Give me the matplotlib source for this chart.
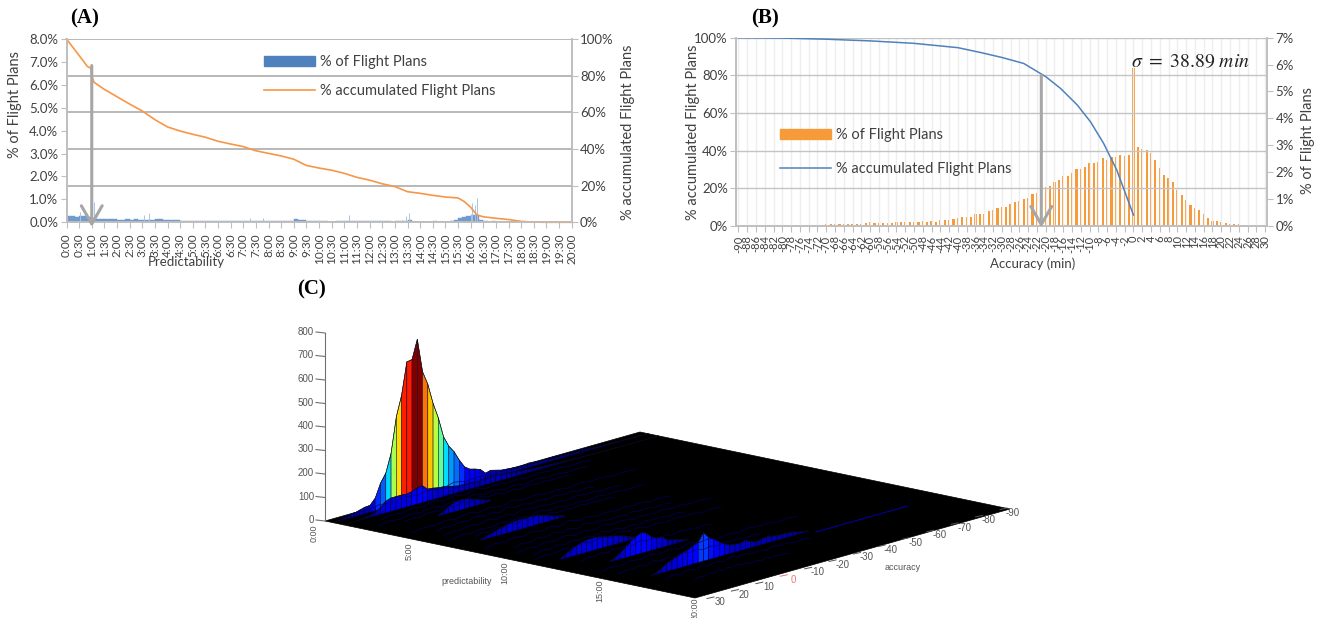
"""Flight plan predictability / accuracy: two Excel style panels and a 3D surface."""
import matplotlib
matplotlib.use("Agg")
import matplotlib.pyplot as plt
import numpy as np
from matplotlib.collections import PolyCollection
from matplotlib.lines import Line2D
from matplotlib.patches import Patch, Polygon

W, H = 1325, 618
plt.rcParams["font.family"] = ["Lato", "DejaVu Sans"]
plt.rcParams["mathtext.fontset"] = "stix"

TXT = "#404040"
GRID = "#ababab"
SPINE = "#bfbfbf"
ARROW = "#a6a6a6"

# Panel A, hours
a_acc_hours = [0, 0.5, 0.83, 0.97, 1.0, 1.08, 1.5, 2, 2.5, 3, 3.5, 4, 4.5, 5, 5.5, 6, 6.5, 7, 7.5, 8,
               8.5, 9, 9.5, 10, 10.5, 11, 11.5, 12, 12.5, 13, 13.5, 14, 14.5, 15, 15.5, 15.75, 16,
               16.25, 16.5, 17, 17.5, 18, 18.5, 19, 20]
a_acc_values = [100, 91, 85, 84, 80, 76.5, 72.5, 68.5, 64.5, 60.7, 56, 52, 49.8, 48, 46.4, 44.2, 42.7,
                41.3, 39, 37.6, 36.2, 34.4, 31, 29.6, 28.4, 26.7, 24.5, 23, 21, 19.5, 16.7, 15.8, 14.7,
                13.8, 13.3, 11.3, 8.2, 4, 3, 2.2, 1.5, 0.5, 0.1, 0, 0]
# one value per 10 min
a_bar_values = [0.27, 0.26, 0.24, 0.28, 0.27, 0.25, 0.2, 0.15, 0.14, 0.14, 0.13, 0.13, 0.12, 0.12, 0.13,
                0.12, 0.13, 0.12, 0.11, 0.12, 0.11, 0.13, 0.14, 0.12, 0.1, 0.1, 0.11, 0.05, 0.05, 0.04,
                0.04, 0.05, 0.05, 0.05, 0.04, 0.04, 0.05, 0.05, 0.04, 0.04, 0.04, 0.04, 0.05, 0.06, 0.05,
                0.04, 0.04, 0.04, 0.04, 0.04, 0.04, 0.04, 0.05, 0.05, 0.13, 0.12, 0.1, 0.05, 0.04, 0.04,
                0.04, 0.04, 0.03, 0.03, 0.04, 0.04, 0.05, 0.07, 0.05, 0.05, 0.05, 0.05, 0.06, 0.05, 0.05,
                0.04, 0.04, 0.03, 0.04, 0.05, 0.06, 0.08, 0.03, 0.03, 0.03, 0.03, 0.03, 0.04, 0.03, 0.03,
                0.03, 0.05, 0.12, 0.2, 0.24, 0.26, 0.3, 0.3, 0.08, 0.04, 0.03, 0.04, 0.03, 0.03, 0.02,
                0.02, 0.03, 0.02, 0.02, 0.01, 0, 0, 0, 0, 0, 0, 0, 0, 0, 0]
a_spike_hours = [0.52, 0.97, 1.08, 3.08, 3.25, 7.25, 7.77, 11.2, 13.3, 13.43, 13.57, 16.0, 16.05, 16.18, 16.25]
a_spike_values = [0.45, 6.85, 0.87, 0.3, 0.4, 0.2, 0.2, 0.33, 0.12, 0.28, 0.4, 0.35, 0.85, 0.75, 1.05]
a_tick_labels = [f"{m // 60}:{m % 60:02d}" for m in range(0, 1201, 30)]

# Panel B, 1 min bins from -90 to 30
b_minutes = list(range(-90, 31))
b_bar_values = [0.01, 0.01, 0.01, 0.01, 0.01, 0.01, 0.01, 0.01, 0.01, 0.01, 0.02, 0.01, 0.02, 0.01, 0.01,
                0.02, 0.02, 0.02, 0.02, 0.02, 0.05, 0.05, 0.05, 0.05, 0.06, 0.06, 0.07, 0.08, 0.07, 0.09,
                0.14, 0.09, 0.1, 0.09, 0.1, 0.1, 0.12, 0.13, 0.14, 0.14, 0.15, 0.15, 0.17, 0.14, 0.16,
                0.15, 0.2, 0.21, 0.22, 0.24, 0.3, 0.31, 0.32, 0.33, 0.42, 0.43, 0.43, 0.55, 0.58, 0.65,
                0.7, 0.71, 0.79, 0.89, 0.91, 0.99, 1.02, 1.17, 1.2, 1.27, 1.45, 1.47, 1.62, 1.72, 1.85,
                1.86, 1.95, 2.12, 2.11, 2.2, 2.32, 2.35, 2.38, 2.51, 2.44, 2.57, 2.54, 2.62, 2.6, 2.64,
                5.86, 2.92, 2.85, 2.83, 2.69, 2.44, 2.13, 1.89, 1.79, 1.61, 1.33, 1.14, 0.96, 0.77, 0.65,
                0.57, 0.42, 0.29, 0.19, 0.16, 0.14, 0.09, 0.06, 0.06, 0.05, 0.04, 0.03, 0.02, 0.01, 0.02, 0.01]
b_acc_minutes = [-90, -80, -70, -60, -50, -40, -35, -30, -25, -20, -16.6, -12.8, -9.8, -6.8, -3.8, 0]
b_acc_values = [100, 99.8, 99.2, 98.3, 97, 94.7, 92.2, 89.5, 86.3, 79.3, 73, 64.2, 55.3, 43.8, 29.6, 5.7]
b_tick_minutes = list(range(-90, 31, 2))

# Panel C, counts along accuracy, one list per predictability row
c_grid = list(range(30, -92, -2))
c_main_pred = 0.45
c_main = [0, 2, 5, 10, 15, 22, 28, 30, 55, 112, 148, 226, 375, 460, 596, 600, 680, 535, 476, 388, 320, 233,
          187, 157, 115, 80, 64, 58, 50, 28, 34, 28, 22, 20, 18, 16, 15, 14, 13, 12, 11, 10, 10, 9, 9, 8, 8,
          7, 7, 6, 6, 5, 5, 4, 4, 3, 3, 2, 2, 1, 0]
c_second_pred = 1.0
c_second = [0, 0, 0, 2, 4, 8, 15, 28, 49, 57, 57, 57, 55, 59, 68, 72, 51, 49, 44, 42, 38, 32, 27, 27, 27, 25,
            23, 27, 27, 28, 25, 22, 20, 18, 16, 14, 12, 10, 9, 8, 7, 6, 5, 4, 4, 3, 3, 2, 2, 1, 1, 1, 1, 0, 0,
            0, 0, 0, 0, 0, 0]
c_third_pred = 3.0
c_third_acc = [8, 6, 4, 2, 0, -2, -4, -6, -8, -10, -12]
c_third = [5, 14, 28, 40, 43, 42, 36, 28, 20, 12, 6]
c_fourth_pred = 7.0
c_fourth_acc = [20, 18, 16, 14, 12, 10, 8, 6, 4, 2, 0, -2, -4, -6, -8, -10, -12]
c_fourth = [5, 12, 18, 24, 30, 36, 40, 42, 42, 40, 42, 36, 30, 24, 16, 10, 5]
c_fifth_pred = 11.6
c_fifth_acc = [22, 20, 18, 16, 14, 12, 10, 8, 6, 4, 2, 0, -2, -4, -6]
c_fifth = [6, 18, 30, 40, 48, 52, 54, 52, 48, 44, 38, 32, 26, 16, 8]
c_sixth_pred = 13.4
c_sixth_acc = [16, 14, 12, 10, 8, 6, 4, 2, 0, -2, -4, -6, -8, -10, -12, -14]
c_sixth = [3, 13, 28, 43, 63, 78, 88, 80, 57, 48, 45, 25, 20, 15, 8, 3]
c_seventh_pred = 16.2
c_seventh_acc = [20, 18, 16, 14, 12, 10, 8, 6, 4, 2, 0, -2, -4, -6, -8, -10, -12, -14, -16, -18, -20, -22,
                 -24, -26, -28, -30, -32, -34, -36, -38, -40]
c_seventh = [0, 8, 20, 35, 43, 51, 60, 67, 78, 87, 123, 95, 80, 64, 48, 37, 34, 32, 38, 26, 19, 24, 28, 24,
             20, 20, 18, 17, 10, 6, 3]
# thin low ridges seen only as mesh lines: predictability, from accuracy, to accuracy
c_low_preds = [0.2, 1.6, 2.2, 2.6, 4.0, 4.6, 5.3, 6.0, 6.4, 8.0, 8.8, 9.5, 10.2, 10.8, 12.4, 14.2, 15.0, 17.0, 18.0]
c_low_from = [25, 20, 25, 18, 25, 20, 22, 24, 18, 25, 20, 24, 22, 26, 20, 25, 24, 20, 16]
c_low_to = [-70, -60, -55, -45, -60, -40, -45, -50, -35, -45, -40, -50, -35, -45, -30, -50, -30, -35, -20]
c_ripple = [0, 8, 3, 12, 5, 16, 6, 14, 4, 18, 7, 12, 3, 9, 2, 10, 4, 7, 1, 5, 0]
c_pred_ticks = [0, 5, 10, 15, 20]
c_acc_ticks = list(range(30, -91, -10))
c_z_ticks = list(range(0, 801, 100))


def fx(x):
    return x / W


def fy(y):
    return 1 - y / H


def ax_rect(left, top, right, bottom):
    return [fx(left), fy(bottom), (right - left) / W, (bottom - top) / H]


def project(pred, acc, z=0.0):
    """Base plane is a parallelogram on the page, so the view is orthographic."""
    u = np.asarray(pred) / 20.0
    v = (30.0 - np.asarray(acc)) / 120.0
    x = 325 + 370 * u + 315 * v
    y = 521 + 77 * u - 89 * v - 0.235 * np.asarray(z)
    return x, y


def style_axes(ax):
    for side in ax.spines:
        ax.spines[side].set_visible(False)
    for side in ("left", "right", "bottom"):
        ax.spines[side].set_visible(True)
        ax.spines[side].set_color(SPINE)
        ax.spines[side].set_linewidth(1.2)
    ax.tick_params(colors=TXT, color=SPINE, labelsize=9.5, pad=2, length=4)


def down_arrow(ax, x, y_top, y_tip):
    ax.annotate("", xy=(x, y_tip), xytext=(x, y_top), annotation_clip=False,
                arrowprops=dict(arrowstyle="->,head_length=13,head_width=7.5", mutation_scale=1,
                                color=ARROW, lw=2.2, shrinkA=0, shrinkB=0), zorder=10)


def draw_wall(ax, pred, accs, zs, cmap, norm):
    polys, colors = [], []
    for a0, a1, z0, z1 in zip(accs[:-1], accs[1:], zs[:-1], zs[1:]):
        corners = [(a0, 0), (a0, z0), (a1, z1), (a1, 0)]
        xs, ys = project(pred, [c[0] for c in corners], [c[1] for c in corners])
        polys.append(np.column_stack([xs, ys]))
        colors.append(cmap(norm(max(z0, z1))))
    ax.add_collection(PolyCollection(polys, facecolors=colors, edgecolors="#000020", linewidths=0.35))
    # the top edge stays dark, as on the mesh
    xs, ys = project(pred, accs, zs)
    ax.plot(xs, ys, color="#101010", lw=0.4)


fig = plt.figure(figsize=(W / 100, H / 100), dpi=100)

# Panel C goes underneath, in page pixels
ax_c = fig.add_axes([0, 0, 1, 1], zorder=0)
ax_c.set_xlim(0, W)
ax_c.set_ylim(H, 0)
ax_c.axis("off")
jet = plt.get_cmap("jet")
jet_norm = plt.Normalize(0, 680)

corner_x, corner_y = project([0, 20, 20, 0], [30, 30, -90, -90])
ax_c.add_patch(Polygon(np.column_stack([corner_x, corner_y]), facecolor="black", edgecolor="black", lw=0.5))

for pred, a_from, a_to in zip(c_low_preds, c_low_from, c_low_to):
    accs = np.linspace(a_from, a_to, len(c_ripple))
    xs, ys = project(pred, accs, c_ripple)
    ax_c.plot(xs, ys, color="#000068", lw=0.45)
xs, ys = project(16.6, np.array([-40, -75]))
ax_c.plot(xs, ys - 1, color="#0000b0", lw=0.7)

for pred, accs, zs in [(c_main_pred, c_grid, c_main),
                       (c_second_pred, c_grid, c_second),
                       (c_third_pred, c_third_acc, c_third),
                       (c_fourth_pred, c_fourth_acc, c_fourth),
                       (c_fifth_pred, c_fifth_acc, c_fifth),
                       (c_sixth_pred, c_sixth_acc, c_sixth),
                       (c_seventh_pred, c_seventh_acc, c_seventh)]:
    draw_wall(ax_c, pred, np.array(accs, dtype=float), np.array(zs, dtype=float), jet, jet_norm)

C_TXT = "#555555"
zx, zy0 = project(0, 30, 0)
_, zy1 = project(0, 30, 800)
ax_c.plot([zx, zx], [zy0, zy1], color="#707070", lw=0.8)
for z in c_z_ticks:
    _, ty = project(0, 30, z)
    ax_c.plot([zx - 9, zx], [ty - 1, ty], color="#707070", lw=0.8)
    ax_c.text(zx - 11, ty - 1, str(z), ha="right", va="center", fontsize=7, color=C_TXT,
              family="Liberation Sans")
for pred in c_pred_ticks:
    tx, ty = project(pred, 30)
    u = pred / 20
    ax_c.text(tx - 11 + 11 * u, ty + 3 - 3 * u, f"{pred}:00", rotation=90, ha="center", va="top",
              fontsize=6.5, color=C_TXT, family="Liberation Sans")
for acc in c_acc_ticks:
    tx, ty = project(20, acc)
    v = (30 - acc) / 120
    lx, ly = tx + 25 - 22 * v, ty + 4
    col = "#e87878" if acc == 0 else C_TXT
    ax_c.plot([lx - 13, lx - 6], [ly - 3.5, ly - 5], color=col, lw=0.7)
    ax_c.text(lx, ly, str(acc), ha="center", va="center", fontsize=7, color=col, family="Liberation Sans")
ax_c.text(467, 582, "predictability", ha="center", va="center", fontsize=6.5, color=C_TXT, family="Liberation Sans")
ax_c.text(903, 567, "accuracy", ha="center", va="center", fontsize=6.5, color=C_TXT, family="Liberation Sans")

# Panel A
ax_a = fig.add_axes(ax_rect(66.5, 39, 571.7, 222.3), zorder=2)
ax_a.patch.set_alpha(0)
a_bar_hours = np.arange(len(a_bar_values)) / 6.0
ax_a.bar(a_bar_hours, a_bar_values, width=1 / 6, align="edge", color="#6f9bd0", edgecolor="#6f9bd0", lw=0.3)
ax_a.vlines(a_spike_hours, 0, a_spike_values, color="#a9c4e4", lw=0.7)
ax_a.set_xlim(0, 20)
ax_a.set_ylim(0, 8)
ax_a.set_yticks(range(0, 9))
ax_a.set_yticklabels([f"{v}.0%" for v in range(0, 9)])
ax_a.set_xticks(np.arange(len(a_tick_labels)) / 2)
ax_a.set_xticklabels(a_tick_labels, rotation=90, fontsize=8.5)
style_axes(ax_a)
ax_a.tick_params(axis="x", labelsize=8.5, pad=4)

ax_a2 = ax_a.twinx()
ax_a2.plot(a_acc_hours, a_acc_values, color="#f79646", lw=1.2, clip_on=False)
ax_a2.set_ylim(0, 100)
ax_a2.set_yticks(range(0, 101, 20))
ax_a2.set_yticklabels([f"{v}%" for v in range(0, 101, 20)])
ax_a2.grid(axis="y", color=GRID, lw=1.2)
ax_a2.set_axisbelow(True)
style_axes(ax_a2)
down_arrow(ax_a2, 1.0, 85.5, -2.5)
ax_a2.legend(handles=[Patch(color="#4f81bd", label="% of Flight Plans"),
                      Line2D([], [], color="#f79646", lw=1.2, label="% accumulated Flight Plans")],
             loc="upper left", bbox_to_anchor=(fx(251), fy(42)), bbox_transform=fig.transFigure,
             frameon=False, fontsize=10.5, labelcolor=TXT, handlelength=3.5, handleheight=0.6,
             labelspacing=1.0, handletextpad=0.3)

# Panel B
ax_b = fig.add_axes(ax_rect(736.3, 37.7, 1267.3, 225.7), zorder=2)
ax_b.patch.set_alpha(0)
ax_b.plot(b_acc_minutes, b_acc_values, color="#4f81bd", lw=1.1, zorder=5)
ax_b.set_xlim(-90.5, 30.5)
ax_b.set_ylim(0, 100)
ax_b.set_yticks(range(0, 101, 20))
ax_b.set_yticklabels([f"{v}%" for v in range(0, 101, 20)])
ax_b.set_xticks(b_tick_minutes)
ax_b.set_xticklabels([str(m) for m in b_tick_minutes], rotation=90, fontsize=8)
ax_b.grid(axis="y", color="#c4c4c4", lw=1.0)
ax_b.grid(axis="x", color="#eeeeee", lw=1.0)
ax_b.set_axisbelow(True)
style_axes(ax_b)
ax_b.tick_params(axis="x", labelsize=8, length=4, pad=3)

ax_b2 = ax_b.twinx()
ax_b2.bar(b_minutes, b_bar_values, width=0.5, color="#f79a3a", lw=0)
ax_b2.set_ylim(0, 7)
ax_b2.set_yticks(range(0, 8))
ax_b2.set_yticklabels([f"{v}%" for v in range(0, 8)])
style_axes(ax_b2)
ax_b.set_zorder(3)
ax_b2.set_zorder(2)
down_arrow(ax_b, -21, 80, -1)
ax_b.legend(handles=[Patch(color="#f79a3a", label="% of Flight Plans"),
                     Line2D([], [], color="#4f81bd", lw=1.1, label="% accumulated Flight Plans")],
            loc="upper left", bbox_to_anchor=(fx(767), fy(115)), bbox_transform=fig.transFigure,
            frameon=False, fontsize=10.5, labelcolor=TXT, handlelength=3.5, handleheight=0.6,
            labelspacing=1.35, handletextpad=0.3)

# page level text
fig.text(fx(15), fy(104), "% of Flight Plans", rotation=90, ha="center", va="center", fontsize=10.5, color=TXT)
fig.text(fx(628), fy(132), "% accumulated Flight Plans", rotation=90, ha="center", va="center", fontsize=10.5, color=TXT)
fig.text(fx(186), fy(262), "Predictability", ha="center", va="center", fontsize=9.5, color=TXT)
fig.text(fx(693), fy(132), "% accumulated Flight Plans", rotation=90, ha="center", va="center", fontsize=10.5, color=TXT)
fig.text(fx(1308), fy(140), "% of Flight Plans", rotation=90, ha="center", va="center", fontsize=10.5, color=TXT)
fig.text(fx(1033), fy(264), "Accuracy (min)", ha="center", va="center", fontsize=9.5, color=TXT)
fig.text(fx(1190), fy(61), r"$\sigma\ =\ 38.89\ min$", ha="center", va="center", fontsize=14.2, color="#222222")
for label, x, y in [("(A)", 85, 18), ("(B)", 765, 18), ("(C)", 312, 289)]:
    fig.text(fx(x), fy(y), label, ha="center", va="center", fontsize=15, fontweight="bold",
             family="Liberation Serif", color="black")

fig.savefig("out.png", dpi=100)
